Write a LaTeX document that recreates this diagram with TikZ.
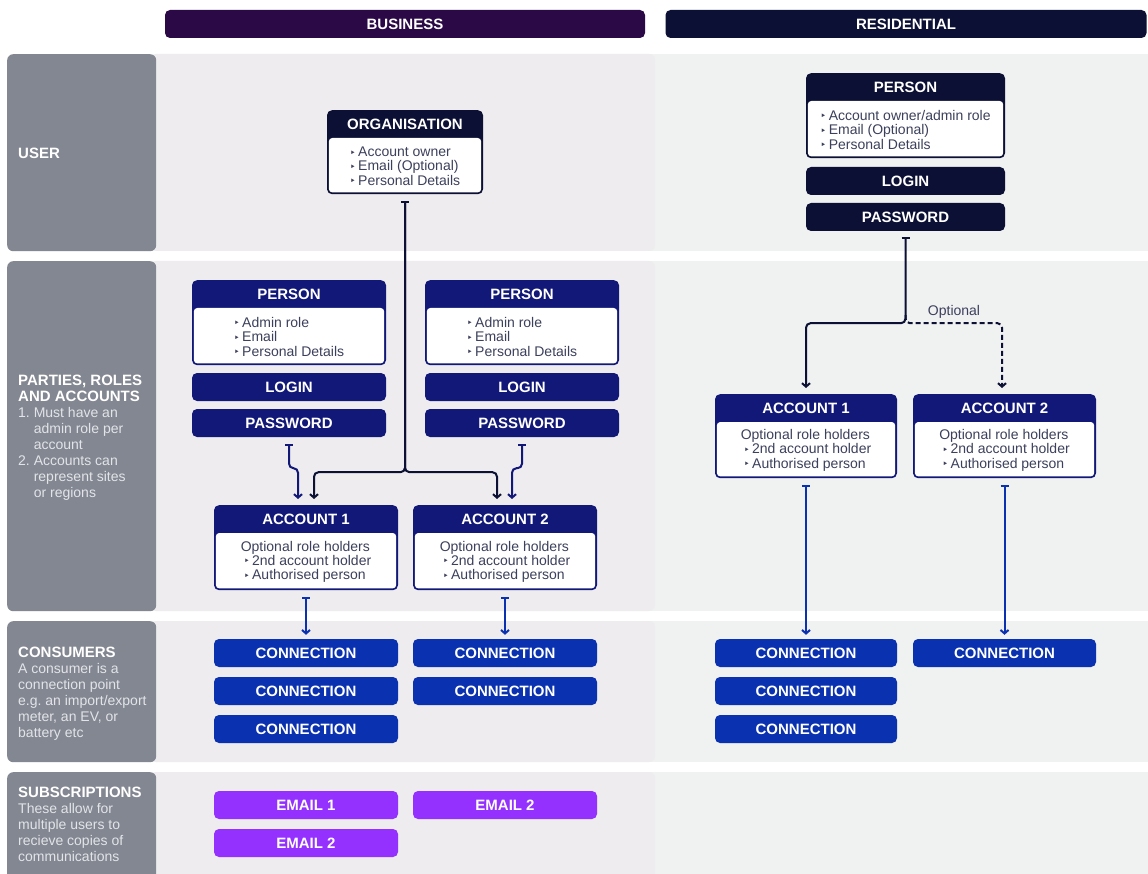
\documentclass[tikz,border=0pt]{standalone}
\usepackage{fontspec}
\setmainfont{Liberation Sans}
\newfontfamily\bulfont{DejaVu Sans}
\usetikzlibrary{arrows.meta,calc}
\definecolor{bizhead}{HTML}{2A0946}
\definecolor{dnavy}{HTML}{0B1034}
\definecolor{bnavy}{HTML}{111878}
\definecolor{cblue}{HTML}{0A31AF}
\definecolor{epurple}{HTML}{9431FF}
\definecolor{lgray}{HTML}{838791}
\definecolor{bizbg}{HTML}{EEECEE}
\definecolor{resbg}{HTML}{F0F1F1}
\definecolor{btext}{HTML}{3C405C}
\definecolor{ltext}{HTML}{E2E4E8}
\newcommand\tb{\raisebox{0.6pt}{\bulfont\fontsize{10}{10}\selectfont ‣}\hspace{2.5pt}}
\tikzset{
  pill/.style={rounded corners=5pt, inner sep=0pt, minimum height=28pt, text=white,
    font=\fontsize{15}{15}\selectfont\bfseries},
  cardbox/.style={rounded corners=5pt, inner sep=0pt},
  cardtitle/.style={text=white, inner sep=0pt, font=\fontsize{15}{15}\selectfont\bfseries},
  cardbody/.style={text=btext, inner sep=0pt, align=left, font=\fontsize{14}{14.3}\selectfont},
  sidebox/.style={fill=lgray, rounded corners=6pt, inner sep=0pt, anchor=north west, minimum width=149pt},
  sidetext/.style={text=ltext, inner sep=0pt, align=left, anchor=north west, font=\fontsize{14}{16}\selectfont},
  link/.style={line width=2pt, rounded corners=4.5pt, -{Straight Barb[length=3.5pt,width=8pt]}},
  barlink/.style={link, {Bar[width=8pt]}-{Straight Barb[length=3.5pt,width=8pt]}},
  optlabel/.style={text=btext, inner sep=0pt, anchor=base, font=\fontsize{14}{14}\selectfont}
}
\newcommand\sidetitle[1]{{\color{white}\fontsize{15}{16}\selectfont\bfseries #1}}
% name, cx, top, width, height, colour, title, body
\newcommand\card[8]{%
  \node[cardbox, fill=#6, minimum width=#4pt, minimum height=#5pt, anchor=north] (#1) at (#2,#3) {};
  \fill[white, rounded corners=3.5pt] ([xshift=2pt,yshift=-28pt]#1.north west) rectangle ([xshift=-2pt,yshift=2pt]#1.south east);
  \node[cardtitle] (#1-t) at ([yshift=-14pt]#1.north) {#7};
  \node[cardbody] (#1-b) at ($([yshift=-28pt]#1.north)!0.5!(#1.south)$) {#8};
}
\begin{document}
\frenchspacing
\begin{tikzpicture}[x=1pt,y=-1pt]
\clip (0,0) rectangle (1148,874);
\fill[white] (0,0) rectangle (1148,874);
% background panels
\foreach \ya/\yb in {54/251, 261/611, 621/762, 772/890}{
  \fill[resbg] (650,\ya) rectangle (1160,\yb);
  \fill[bizbg, rounded corners=6pt] (150,\ya) rectangle (655,\yb);
}
% column headers
\node[pill, fill=bizhead, minimum width=480pt] (hbiz) at (405,24) {BUSINESS};
\node[pill, fill=dnavy, minimum width=481pt] (hres) at (906,24) {RESIDENTIAL};
% side labels
\node[sidebox, minimum height=197pt] (suser) at (7,54) {};
\node[sidebox, minimum height=350pt] (sparty) at (7,261) {};
\node[sidebox, minimum height=141pt] (scons) at (7,621) {};
\node[sidebox, minimum height=120pt] (ssubs) at (7,772) {};
\node[sidetext] (tuser) at (18,148.3) {\sidetitle{USER}};
\node[sidetext] (tparty) at (18,375.3) {\sidetitle{PARTIES, ROLES}\\\sidetitle{AND ACCOUNTS}\\1. Must have an\\\hspace*{15.6pt}admin role per\\\hspace*{15.6pt}account\\2. Accounts can\\\hspace*{15.6pt}represent sites\\\hspace*{15.6pt}or regions};
\node[sidetext] (tcons) at (18,647.3) {\sidetitle{CONSUMERS}\\A consumer is a\\connection point\\e.g. an import/export\\meter, an EV, or\\battery etc};
\node[sidetext] (tsubs) at (18,787.3) {\sidetitle{SUBSCRIPTIONS}\\These allow for\\multiple users to\\recieve copies of\\communications};
% business
\card{org}{405}{110}{156}{84}{dnavy}{ORGANISATION}{\tb Account owner\\\tb Email (Optional)\\\tb Personal Details}
\card{p1}{289}{280}{194}{85}{bnavy}{PERSON}{\tb Admin role\\\tb Email\\\tb Personal Details}
\card{p2}{522}{280}{194}{85}{bnavy}{PERSON}{\tb Admin role\\\tb Email\\\tb Personal Details}
\node[pill, fill=bnavy, minimum width=194pt] (login1) at (289,387) {LOGIN};
\node[pill, fill=bnavy, minimum width=194pt] (pw1) at (289,423) {PASSWORD};
\node[pill, fill=bnavy, minimum width=194pt] (login2) at (522,387) {LOGIN};
\node[pill, fill=bnavy, minimum width=194pt] (pw2) at (522,423) {PASSWORD};
\card{a1}{306}{505}{184}{85}{bnavy}{ACCOUNT 1}{Optional role holders\\\hspace*{3pt}\tb 2nd account holder\\\hspace*{3pt}\tb Authorised person}
\card{a2}{505}{505}{184}{85}{bnavy}{ACCOUNT 2}{Optional role holders\\\hspace*{3pt}\tb 2nd account holder\\\hspace*{3pt}\tb Authorised person}
\node[pill, fill=cblue, minimum width=184pt] (c11) at (306,653) {CONNECTION};
\node[pill, fill=cblue, minimum width=184pt] (c12) at (306,691) {CONNECTION};
\node[pill, fill=cblue, minimum width=184pt] (c13) at (306,729) {CONNECTION};
\node[pill, fill=cblue, minimum width=184pt] (c21) at (505,653) {CONNECTION};
\node[pill, fill=cblue, minimum width=184pt] (c22) at (505,691) {CONNECTION};
\node[pill, fill=epurple, minimum width=184pt] (e11) at (306,805) {EMAIL 1};
\node[pill, fill=epurple, minimum width=184pt] (e12) at (306,843) {EMAIL 2};
\node[pill, fill=epurple, minimum width=184pt] (e21) at (505,805) {EMAIL 2};
% residential
\card{rp}{905.5}{73}{199}{85}{dnavy}{PERSON}{\tb Account owner/admin role\\\tb Email (Optional)\\\tb Personal Details}
\node[pill, fill=dnavy, minimum width=199pt] (rlogin) at (905.5,181) {LOGIN};
\node[pill, fill=dnavy, minimum width=199pt] (rpw) at (905.5,217) {PASSWORD};
\card{ra1}{806}{394}{182}{84}{bnavy}{ACCOUNT 1}{Optional role holders\\\hspace*{3pt}\tb 2nd account holder\\\hspace*{3pt}\tb Authorised person}
\card{ra2}{1004.5}{394}{183}{84}{bnavy}{ACCOUNT 2}{Optional role holders\\\hspace*{3pt}\tb 2nd account holder\\\hspace*{3pt}\tb Authorised person}
\node[pill, fill=cblue, minimum width=182pt] (rc11) at (806,653) {CONNECTION};
\node[pill, fill=cblue, minimum width=182pt] (rc12) at (806,691) {CONNECTION};
\node[pill, fill=cblue, minimum width=182pt] (rc13) at (806,729) {CONNECTION};
\node[pill, fill=cblue, minimum width=183pt] (rc21) at (1004.5,653) {CONNECTION};
% business connectors
\coordinate (osplit) at ($(org.south |- pw1.south)+(0,35)$);
\draw[barlink, draw=dnavy] ([yshift=-7pt]org.south) -- (osplit) -| ([xshift=8pt,yshift=6pt]a1.north);
\draw[barlink, draw=dnavy] ([yshift=-7pt]org.south) -- (osplit) -| ([xshift=-8pt,yshift=6pt]a2.north);
\draw[barlink, draw=bnavy] ([yshift=-7pt]pw1.south) -- ++(0,24) -| ([xshift=-8pt,yshift=6pt]a1.north);
\draw[barlink, draw=bnavy] ([yshift=-7pt]pw2.south) -- ++(0,24) -| ([xshift=7pt,yshift=6pt]a2.north);
\draw[barlink, draw=cblue] ([yshift=-7pt]a1.south) -- ([yshift=4pt]c11.north);
\draw[barlink, draw=cblue] ([yshift=-7pt]a2.south) -- ([yshift=4pt]c21.north);
% residential connectors
\coordinate (rsplit) at ($(rpw.south)+(0,92)$);
\draw[barlink, draw=dnavy] ([yshift=-6pt]rpw.south) -- (rsplit) -| ([yshift=6pt]ra1.north);
\draw[link, draw=dnavy, dash pattern=on 5pt off 3pt] ([yshift=8pt]rsplit) -- (rsplit) -| ([xshift=-2.5pt,yshift=6pt]ra2.north);
\node[optlabel] (opt) at (954,316) {Optional};
\draw[barlink, draw=cblue] ([yshift=-7pt]ra1.south) -- ([yshift=4pt]rc11.north);
\draw[barlink, draw=cblue] ([yshift=-7pt]ra2.south) -- ([yshift=4pt]rc21.north);
\end{tikzpicture}
\end{document}
